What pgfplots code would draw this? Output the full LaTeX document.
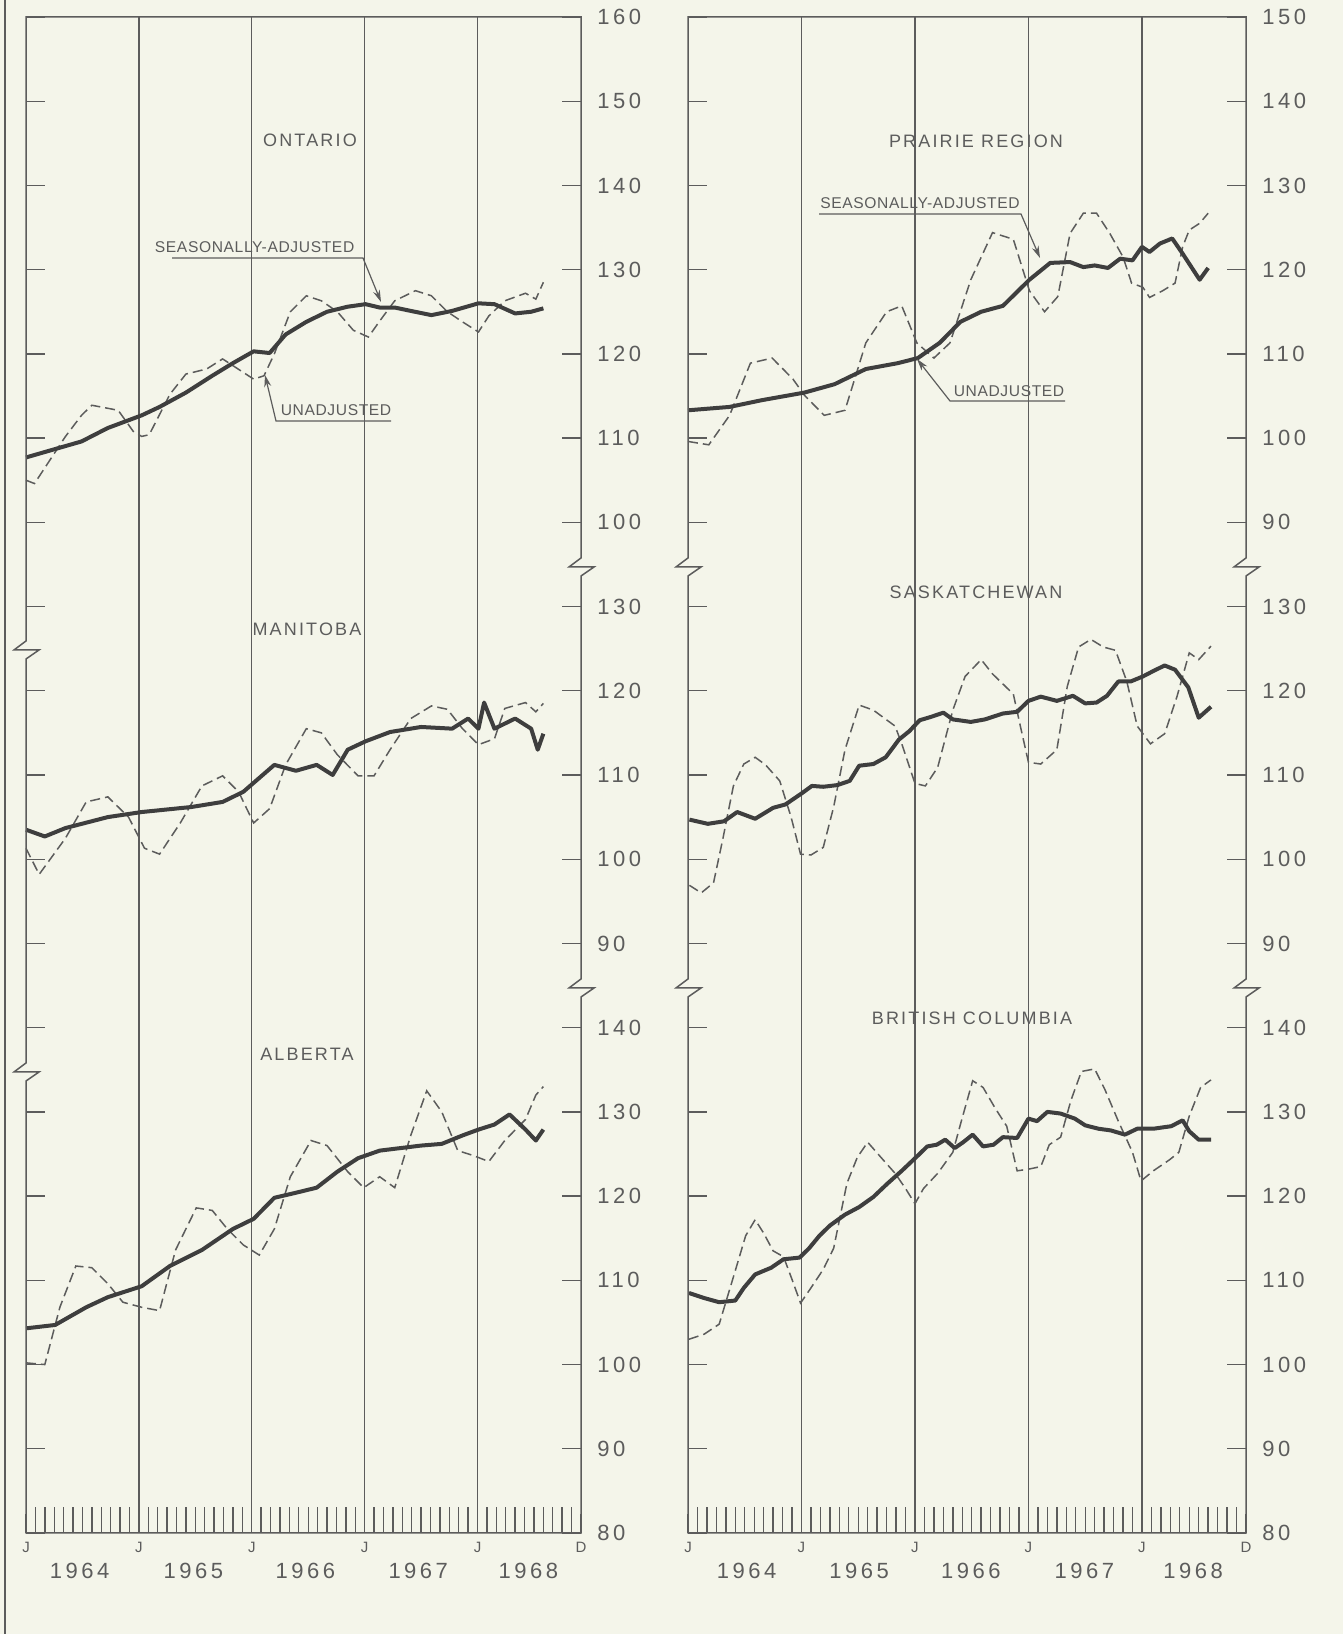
\documentclass[border=0pt]{standalone}
\usepackage{pgfplots}
\pgfplotsset{compat=1.18}
\usepackage{fontspec}
\setmainfont{Liberation Sans}
\newfontfamily\lab[LetterSpace=12]{Liberation Sans}
\newfontfamily\num[LetterSpace=16]{Liberation Sans}
\newfontfamily\ann[LetterSpace=4]{Liberation Sans}
\usetikzlibrary{arrows.meta}
\definecolor{paper}{RGB}{244,245,234}
\definecolor{ink}{RGB}{92,92,92}
\definecolor{dark}{RGB}{62,62,62}
\tikzset{yr/.style={font=\num\fontsize{11}{13}\selectfont, text=ink, inner sep=0pt, yshift=-19pt}}
\pgfplotsset{
 frame/.style={scale only axis, anchor=south west, height=758pt, clip=false,
  xmin=0, xmax=59, ymin=0, ymax=180,
  axis line style={draw=none}, tick align=inside,
  xtick={0,12,24,36,48,59}, xticklabels={J,J,J,J,J,D}, xtick pos=left,
  minor xtick={1,...,58},
  ytick={0,10,...,180}, yticklabel pos=right, ytick pos=both,
  major tick length=9.5pt, minor tick length=13pt,
  tick style={draw=ink, line width=0.7pt},
  major grid style={draw=ink, line width=0.7pt},
  extra x ticks={12,24,36,48}, extra x tick labels={},
  extra x tick style={grid=major},
  xticklabel style={font=\fontsize{7.5}{8}\selectfont, text=ink, anchor=north, inner sep=0pt, yshift=-4.5pt},
  yticklabel style={font=\num\fontsize{11}{13}\selectfont, text=ink, anchor=west, inner sep=0pt, xshift=8pt},
  /pgf/number format/assume math mode=true},
 data/.style={scale only axis, anchor=south west, height=758pt, xmin=0, xmax=59, hide axis, clip=false},
 sa/.style={draw=dark, line width=2pt, line join=round, no marks},
 ua/.style={draw=ink, line width=0.75pt, dash pattern=on 5pt off 2.5pt, no marks},
}
\begin{document}
\begin{tikzpicture}
\useasboundingbox (0,0) rectangle (671.5pt,817pt);
\fill[paper] (0,0) rectangle (671.5pt,817pt);
\draw[ink, line width=1.3pt] (2.5pt,0) -- (2.5pt,817pt);

% ---------------- LEFT COLUMN ----------------
\begin{axis}[frame, at={(13pt,50.5pt)}, width=277.5pt,
  yticklabels={80,90,100,110,120,130,140,90,100,110,120,130,100,110,120,130,140,150,160}]
\node[yr] at (axis cs:5.7,0) {1964};
\node[yr] at (axis cs:17.8,0) {1965};
\node[yr] at (axis cs:29.7,0) {1966};
\node[yr] at (axis cs:41.7,0) {1967};
\node[yr] at (axis cs:53.4,0) {1968};
\end{axis}

% Ontario
\begin{axis}[data, at={(13pt,50.5pt)}, width=277.5pt, ymin=-20, ymax=160]
\addplot[ua] coordinates {(0,105.0)(0.9,104.6)(4.2,110.2)(5.9,112.7)(7,113.9)(9.8,113.3)(11.4,110.8)(12.3,110.2)(13.1,110.4)(15.3,115.2)(17,117.6)(19.2,118.2)(20.9,119.4)(24.2,117.0)(25.3,117.4)(26.4,120.0)(28.1,125.0)(29.8,126.9)(31.4,126.3)(33.1,125.0)(34.8,122.8)(36.4,122.0)(37.6,123.9)(39.2,126.3)(41.4,127.5)(43.1,126.9)(44.8,125.0)(46.4,123.8)(48.1,122.6)(49.2,124.5)(50.9,126.3)(53.1,127.2)(54.2,126.5)(55,128.5)};
\addplot[sa] coordinates {(0,107.7)(3.1,108.7)(5.9,109.6)(8.7,111.2)(12.3,112.7)(14.2,113.7)(17,115.4)(19.8,117.4)(22,118.9)(24.2,120.3)(25.9,120.1)(27.6,122.3)(29.8,123.8)(32,125.0)(34.2,125.6)(36.1,125.9)(37.6,125.5)(39.2,125.5)(40.9,125.1)(43.1,124.6)(45.3,125.1)(48.1,126.0)(49.8,125.9)(52,124.8)(53.7,125.0)(55,125.4)};
\end{axis}
% Manitoba
\begin{axis}[data, at={(13pt,50.5pt)}, width=277.5pt, ymin=20, ymax=200]
\addplot[ua] coordinates {(0,101.3)(1.4,98.2)(4.2,102.5)(6.4,106.8)(8.7,107.4)(10.9,105)(12.6,101.3)(14.2,100.6)(16.4,104.3)(18.7,108.7)(20.9,109.9)(22.6,108)(24.2,104.3)(25.9,106)(27.6,111.2)(29.8,115.5)(31.4,115)(33.1,112.4)(35.3,109.9)(37,109.9)(38.7,113)(40.9,116.7)(43.1,118.2)(44.8,117.8)(46.4,115.5)(48.1,113.6)(49.8,114.3)(50.9,117.9)(53.1,118.6)(54.2,117.5)(55,118.5)};
\addplot[sa] coordinates {(0,103.5)(2,102.7)(4.2,103.7)(8.7,105)(12.3,105.6)(17.6,106.2)(20.9,106.8)(23.1,108)(26.4,111.2)(28.7,110.5)(30.9,111.2)(32.6,110)(34.2,113)(36.1,114)(38.7,115.1)(42,115.7)(45.3,115.5)(47,116.7)(48.1,115.5)(48.7,118.6)(49.8,115.5)(52,116.7)(53.7,115.5)(54.4,113)(55,114.9)};
\end{axis}
% Alberta
\begin{axis}[data, at={(13pt,50.5pt)}, width=277.5pt, ymin=80, ymax=260]
\addplot[ua] coordinates {(0,100.2)(2,100)(3.6,106.8)(5.3,111.7)(7,111.5)(8.7,109.6)(10.3,107.4)(12.3,106.8)(14.2,106.4)(15.9,113.6)(18.1,118.6)(19.8,118.3)(21.4,116.1)(23.1,114.2)(24.8,113)(26.4,116.1)(28.1,122.3)(30.3,126.6)(32,126)(34.2,122.9)(35.9,121)(37.6,122.3)(39.2,121)(40.9,127.2)(42.6,132.5)(44.2,130)(45.9,125.4)(47.6,124.8)(49.2,124.1)(50.9,126.6)(53.1,129.1)(54.2,132)(55,133)};
\addplot[sa] coordinates {(0,104.3)(3.1,104.7)(6.4,106.8)(8.7,108)(12.3,109.3)(15.3,111.7)(18.7,113.6)(22,116.1)(24.2,117.3)(26.4,119.8)(28.7,120.4)(30.9,121)(33.1,122.9)(35.3,124.5)(37.6,125.4)(39.8,125.7)(42,126)(44.2,126.2)(46.4,127.2)(48.1,127.9)(49.8,128.5)(51.4,129.7)(53.1,127.9)(54.2,126.6)(55,127.9)};
\end{axis}

% ---------------- RIGHT COLUMN ----------------
\begin{axis}[frame, at={(344pt,50.5pt)}, width=279pt,
  yticklabels={80,90,100,110,120,130,140,90,100,110,120,130,90,100,110,120,130,140,150}]
\node[yr] at (axis cs:6.2,0) {1964};
\node[yr] at (axis cs:18.1,0) {1965};
\node[yr] at (axis cs:29.9,0) {1966};
\node[yr] at (axis cs:41.9,0) {1967};
\node[yr] at (axis cs:53.4,0) {1968};
\end{axis}
% Prairie
\begin{axis}[data, at={(344pt,50.5pt)}, width=279pt, ymin=-30, ymax=150]
\addplot[ua] coordinates {(0,99.6)(2.2,99.2)(4.4,102.7)(6.6,108.9)(8.9,109.5)(11.1,107)(12.3,105.1)(14.4,102.7)(16.6,103.3)(18.8,111.3)(21,115)(22.6,115.7)(24.2,111.3)(26,109.5)(27.7,111.3)(29.9,118.8)(32.2,124.4)(34.4,123.6)(36.1,117.5)(37.7,115)(39.1,116.8)(40.4,124.3)(41.8,126.7)(43.2,126.7)(44.6,124.3)(46,121.5)(46.9,118.4)(48.1,117.9)(48.8,116.7)(50.2,117.5)(51.5,118.4)(52.3,122.7)(53,124.7)(54.1,125.5)(55,126.7)};
\addplot[sa] coordinates {(0,103.3)(4.4,103.7)(7.8,104.5)(12.3,105.4)(15.5,106.4)(18.8,108.2)(22.2,108.9)(24.3,109.5)(26.6,111.3)(28.8,113.8)(31,115)(33.3,115.7)(36.1,118.8)(38.3,120.8)(40.4,120.9)(41.8,120.3)(43,120.5)(44.4,120.2)(45.7,121.3)(47,121.1)(48,122.7)(48.8,122.1)(49.9,123.1)(51.2,123.7)(52.3,121.9)(54.1,118.8)(55,120.2)};
\end{axis}
% Saskatchewan
\begin{axis}[data, at={(344pt,50.5pt)}, width=279pt, ymin=20, ymax=200]
\addplot[ua] coordinates {(0.15,96.9)(1.4,96)(2.7,97.2)(3.7,102.5)(4.8,108.7)(5.9,111.3)(7.1,112.1)(8.2,111.2)(9.7,109.3)(10.9,105)(11.9,100.6)(13,100.5)(14.3,101.4)(15.4,106.2)(16.6,113)(18.1,118.3)(19.6,117.7)(21.9,115.8)(22.6,113.7)(24,109)(25.1,108.7)(26.4,110.9)(28,117.7)(29.3,121.7)(31,123.7)(32.2,122)(33.3,120.8)(34.4,119.6)(35.2,115.5)(36,111.5)(37.3,111.3)(39,113)(40.1,120.5)(41.3,125.2)(42.6,126.1)(43.9,125.2)(45.2,124.8)(46.4,121.1)(47.5,115.8)(48.9,113.7)(50.4,114.9)(51.7,119.3)(53,124.5)(54,123.7)(55.3,125.3)};
\addplot[sa] coordinates {(0.15,104.7)(2.1,104.2)(3.8,104.5)(5.2,105.6)(7.1,104.8)(9,106.1)(10.3,106.5)(12,107.8)(13.1,108.7)(14.3,108.6)(15.8,108.8)(17.1,109.3)(18.1,111.1)(19.6,111.3)(20.9,112.1)(22.3,114.2)(23.4,115.2)(24.5,116.5)(25.7,116.9)(27,117.4)(28,116.6)(29.9,116.3)(31.4,116.6)(33.3,117.3)(34.8,117.5)(36,118.8)(37.3,119.3)(39,118.8)(40.7,119.4)(42,118.5)(43.2,118.6)(44.3,119.4)(45.5,121.1)(46.8,121.1)(48.1,121.7)(49.3,122.4)(50.4,123.0)(51.5,122.5)(52.9,120.4)(54,116.8)(55.3,118.1)};
\end{axis}
% British Columbia
\begin{axis}[data, at={(344pt,50.5pt)}, width=279pt, ymin=80, ymax=260]
\addplot[ua] coordinates {(0.1,103)(1.7,103.6)(3.3,104.8)(4.8,110.4)(6.1,115.3)(7.1,117.2)(8,115.6)(9,113.5)(10.1,112.8)(11,110.1)(11.9,107.3)(13,109.1)(14.3,111.3)(15.4,113.8)(16.8,121.5)(17.9,124.6)(19,126.4)(20.4,124.6)(21.9,122.7)(23,120.9)(24,119.1)(24.9,120.9)(26.4,122.7)(28,125.2)(28.9,128.9)(30.1,133.7)(31.2,132.9)(32.5,130.4)(33.7,128.3)(34.8,123)(36,123.2)(37.3,123.5)(38.2,126.1)(39.4,127)(40.5,131.4)(41.6,134.8)(43,135.1)(44.1,132.6)(45.5,128.9)(47,125.2)(47.9,121.8)(49.2,123)(50.9,124.3)(51.9,125.2)(53,129.5)(54.2,132.9)(55.3,133.8)};
\addplot[sa] coordinates {(0.1,108.5)(1.7,107.9)(3.3,107.4)(5,107.6)(5.9,109.1)(7.1,110.7)(8.8,111.5)(10.1,112.5)(11.8,112.7)(12.8,113.8)(13.9,115.3)(15,116.5)(16.6,117.8)(18.1,118.7)(19.6,119.9)(21.1,121.5)(22.6,123)(24.2,124.7)(25.3,125.9)(26.3,126.1)(27.2,126.7)(28.2,125.7)(29.1,126.4)(30.1,127.3)(31.2,125.9)(32.3,126.1)(33.3,127)(34.8,126.9)(36,129.2)(36.9,128.9)(38,130)(39.4,129.8)(40.9,129.2)(42,128.4)(43.4,128)(44.7,127.8)(46.2,127.3)(47.5,128)(49.2,128)(51.1,128.3)(52.3,129)(53,127.7)(54,126.7)(55.3,126.7)};
\end{axis}

% ---------------- FRAMES WITH BREAKS ----------------
\draw[ink, line width=0.75pt, line join=miter]
 (13pt,808.5pt) -- (290.5pt,808.5pt)
 -- (290.5pt,538pt) -- (284.5pt,533.5pt) -- (297pt,533.5pt) -- (290.5pt,529pt)
 -- (290.5pt,327.5pt) -- (284.5pt,323pt) -- (297pt,323pt) -- (290.5pt,318.5pt)
 -- (290.5pt,50.5pt) -- (13pt,50.5pt)
 -- (13pt,276.5pt) -- (19.5pt,281pt) -- (7pt,281pt) -- (13pt,285.5pt)
 -- (13pt,487.5pt) -- (19.5pt,492pt) -- (7pt,492pt) -- (13pt,496.5pt)
 -- cycle;
\draw[ink, line width=0.75pt, line join=miter]
 (344pt,808.5pt) -- (623pt,808.5pt)
 -- (623pt,538pt) -- (617pt,533.5pt) -- (629.5pt,533.5pt) -- (623pt,529pt)
 -- (623pt,327.5pt) -- (617pt,323pt) -- (629.5pt,323pt) -- (623pt,318.5pt)
 -- (623pt,50.5pt) -- (344pt,50.5pt)
 -- (344pt,318.5pt) -- (350.5pt,323pt) -- (338pt,323pt) -- (344pt,327.5pt)
 -- (344pt,529pt) -- (350.5pt,533.5pt) -- (338pt,533.5pt) -- (344pt,538pt)
 -- cycle;

% ---------------- TITLES AND ANNOTATIONS ----------------
\begin{scope}[every node/.style={text=ink, inner sep=0pt}]
\node[font=\lab\fontsize{9}{10}\selectfont] at (155pt,747pt) {ONTARIO};
\node[font=\lab\fontsize{9}{10}\selectfont] at (153.5pt,502.5pt) {MANITOBA};
\node[font=\lab\fontsize{9}{10}\selectfont] at (153.5pt,290pt) {ALBERTA};
\node[font=\lab\fontsize{9}{10}\selectfont] at (488pt,746.5pt) {PRAIRIE REGION};
\node[font=\lab\fontsize{9}{10}\selectfont] at (488pt,521pt) {SASKATCHEWAN};
\node[font=\lab\fontsize{9}{10}\selectfont] at (486pt,308pt) {BRITISH COLUMBIA};
\node[font=\ann\fontsize{7.8}{9}\selectfont] at (127.3pt,693.5pt) {SEASONALLY-ADJUSTED};
\node[font=\ann\fontsize{7.8}{9}\selectfont] at (168pt,612pt) {UNADJUSTED};
\node[font=\ann\fontsize{7.8}{9}\selectfont] at (460pt,715.5pt) {SEASONALLY-ADJUSTED};
\node[font=\ann\fontsize{7.8}{9}\selectfont] at (504.5pt,621.5pt) {UNADJUSTED};
\end{scope}
\draw[ink, line width=0.6pt, -{Stealth[length=6pt,width=3.5pt]}] (86pt,688pt) -- (181.5pt,688pt) -- (190.5pt,666pt);
\draw[ink, line width=0.6pt, -{Stealth[length=6pt,width=3.5pt]}] (195.5pt,606.5pt) -- (138pt,606.5pt) -- (132.5pt,629.5pt);
\draw[ink, line width=0.6pt, -{Stealth[length=6pt,width=3.5pt]}] (409.5pt,710pt) -- (510.5pt,710pt) -- (520pt,688pt);
\draw[ink, line width=0.6pt, -{Stealth[length=6pt,width=3.5pt]}] (532.5pt,616.5pt) -- (475pt,616.5pt) -- (458.5pt,637.5pt);
\end{tikzpicture}
\end{document}
